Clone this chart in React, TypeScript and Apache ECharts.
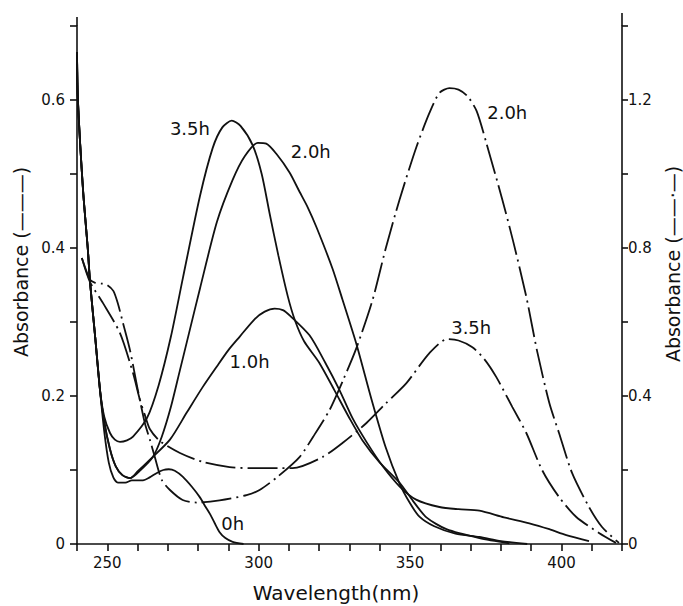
import React, { useEffect, useRef } from "react";
import * as echarts from "echarts";

// ---- axis tick labels ----
const xLabeledTicks = [250, 300, 350, 400];
const leftLabeledTicks = [0, 0.2, 0.4, 0.6];
const rightLabeledTicks = [0, 0.4, 0.8, 1.2];

// ---- solid curves (left axis, absorbance) ----
const solidStart = [
  [240, 0.665], [240.3, 0.6], [242, 0.478], [243.6, 0.397], [244.3, 0.354], [246, 0.28], [247.6, 0.208],
];

const solid0h = [
  ...solidStart,
  [249, 0.152], [250.5, 0.11], [252, 0.09], [253.5, 0.083], [256, 0.083], [258.1, 0.086],
  [261.8, 0.086], [264, 0.09], [266.4, 0.096], [268.5, 0.1], [270.3, 0.101], [272.3, 0.099],
  [274.9, 0.091], [278, 0.077], [280.6, 0.063], [282.5, 0.05], [284, 0.04], [285.5, 0.028],
  [287.1, 0.016], [289, 0.008], [291.4, 0.003], [295, 0],
];

const solid1h = [
  ...solidStart,
  [249, 0.165], [250.9, 0.128], [252.8, 0.105], [255, 0.093], [257.5, 0.089], [260, 0.098],
  [264.1, 0.114], [270.7, 0.141], [276.3, 0.178], [281.5, 0.212], [286.2, 0.24], [290, 0.262],
  [293.7, 0.28], [298.7, 0.304], [302, 0.314], [305.3, 0.318], [308, 0.316], [310.5, 0.308],
  [316.8, 0.282], [322, 0.245], [326.7, 0.208], [331, 0.17], [335.6, 0.138], [341, 0.105],
  [346.5, 0.078], [352, 0.06], [359.7, 0.05], [366, 0.047], [372.9, 0.045], [381, 0.036],
  [389.4, 0.028], [396, 0.02], [401.6, 0.012], [409.1, 0.004],
];

const solid2h = [
  ...solidStart,
  [249, 0.165], [250.9, 0.128], [252.8, 0.105], [255, 0.093], [257.5, 0.089], [261, 0.1],
  [265.1, 0.118], [268, 0.145], [271, 0.185], [274, 0.235], [277, 0.285], [280.6, 0.345],
  [286.2, 0.435], [291.4, 0.492], [295.4, 0.524], [299.7, 0.542], [302.5, 0.541], [305.9, 0.527],
  [310.2, 0.502], [313.5, 0.476], [316.2, 0.455], [319.1, 0.428], [324.4, 0.372], [327.7, 0.33],
  [332.3, 0.27], [337.3, 0.195], [342, 0.13], [346.5, 0.082], [350, 0.055], [353.1, 0.037],
  [358, 0.024], [365, 0.014], [372.9, 0.0095], [380, 0.004], [388.7, 0],
];

const solid35h = [
  ...solidStart,
  [249, 0.172], [250.9, 0.15], [252.5, 0.141], [254.2, 0.138], [256.5, 0.14], [258.5, 0.145],
  [263.1, 0.17], [267, 0.215], [271, 0.28], [275, 0.36], [280.6, 0.47], [284.8, 0.535],
  [288, 0.563], [291.1, 0.572], [294, 0.565], [298, 0.539], [301, 0.5], [303.6, 0.447],
  [306.5, 0.39], [309.6, 0.335], [312, 0.302], [315, 0.274], [320, 0.245], [325, 0.208],
  [330, 0.17], [334.3, 0.14], [340, 0.11], [346.5, 0.083], [351, 0.058], [355.4, 0.036],
  [362, 0.02], [372.9, 0.008], [382.8, 0.001],
];

// ---- dash-dot curves (right axis, absorbance) ----
const dash2h = [
  [241.6, 0.773], [243, 0.74], [244.3, 0.714], [246, 0.706], [248, 0.704], [250, 0.7],
  [252, 0.684], [253.5, 0.65], [255.2, 0.597], [257.5, 0.524], [260.1, 0.416], [262.4, 0.327],
  [264.1, 0.281], [265.7, 0.235], [268, 0.173], [270.7, 0.146], [274.9, 0.119], [279.6, 0.112],
  [287.1, 0.118], [296, 0.132], [300.3, 0.146], [306, 0.18], [313.5, 0.235], [318, 0.29],
  [323.4, 0.362], [328, 0.445], [332.3, 0.53], [337.6, 0.659], [342, 0.8], [346.5, 0.93],
  [352.1, 1.073], [356.4, 1.165], [359.7, 1.219], [363, 1.232], [366, 1.228], [369, 1.21],
  [372, 1.17], [375.2, 1.084], [380.5, 0.93], [384, 0.82], [388.4, 0.668], [392, 0.52],
  [396, 0.381], [399.2, 0.3], [403.5, 0.192], [409.1, 0.1], [413.4, 0.046], [419, 0.003],
];

const dash35h = [
  [241.6, 0.773], [244.3, 0.708], [248.6, 0.651], [254.2, 0.57], [258.5, 0.462], [260.8, 0.389],
  [262.4, 0.349], [264.1, 0.31], [267.4, 0.278], [274, 0.246], [281.5, 0.222], [290.4, 0.208],
  [297, 0.205], [311.2, 0.205], [321.1, 0.235], [328, 0.275], [335.6, 0.327], [342, 0.38],
  [348.8, 0.435], [356.4, 0.516], [362.3, 0.554], [366, 0.55], [370.6, 0.532], [374.5, 0.5],
  [378.5, 0.451], [383.8, 0.37], [388.4, 0.3], [393.6, 0.2], [399.2, 0.127], [404.9, 0.073],
  [412.4, 0.03], [418, 0.003],
];

// ---- curve label texts and anchors (data coordinates) ----
const curveLabels = ["0h", "1.0h", "2.0h", "3.5h", "2.0h", "3.5h"];
const labelAnchors = [
  [291.4, 0.028], [297.0, 0.246], [317.2, 0.531], [277.3, 0.561], [382.1, 1.165], [370.2, 0.586],
];

const FONT = "'DejaVu Sans', Verdana, sans-serif";
const INK = "#111";

const near = (list: number[], v: number) => list.some((t) => Math.abs(t - v) < 1e-6);

export default function App() {
  const ref = useRef<HTMLDivElement>(null);

  useEffect(() => {
    document.body.style.margin = "0";
    if (!ref.current) return;
    const chart = echarts.init(ref.current, undefined, { renderer: "svg" });

    const gridLeft = 77;
    const gridRight = 61;
    const gridTop = 26;
    const gridBottom = 62;
    const W = 683;
    const H = 606;

    const mkSeries = (name: string, data: number[][], yAxisIndex: number, dashed: boolean, li: number) => ({
      name,
      type: "line",
      data,
      yAxisIndex,
      smooth: 0.25,
      showSymbol: false,
      symbol: "none",
      silent: true,
      lineStyle: {
        color: INK,
        width: 1.8,
        type: dashed ? [30, 5, 2, 5] : "solid",
      },
      markPoint: {
        symbol: "circle",
        symbolSize: 0,
        silent: true,
        label: {
          show: true,
          position: "inside",
          formatter: curveLabels[li],
          fontSize: 18,
          fontFamily: FONT,
          color: INK,
        },
        data: [{ coord: labelAnchors[li] }],
      },
    });

    const axisLineStyle = { color: INK, width: 1.6 };

    chart.setOption({
      animation: false,
      grid: { left: gridLeft, right: gridRight, top: gridTop, bottom: gridBottom, containLabel: false },
      xAxis: {
        type: "value",
        min: 240,
        max: 420,
        interval: 10,
        axisLine: { show: true, lineStyle: axisLineStyle },
        axisTick: { show: true, length: 7, lineStyle: axisLineStyle },
        axisLabel: {
          margin: 11,
          fontSize: 15,
          fontFamily: FONT,
          color: INK,
          formatter: (v: number) => (near(xLabeledTicks, v) ? String(v) : ""),
        },
        splitLine: { show: false },
      },
      yAxis: [
        {
          type: "value",
          position: "left",
          min: 0,
          max: 0.7,
          interval: 0.1,
          axisLine: { show: true, lineStyle: axisLineStyle },
          axisTick: { show: true, length: 7, lineStyle: axisLineStyle },
          axisLabel: {
            margin: 12,
            fontSize: 15,
            fontFamily: FONT,
            color: INK,
            formatter: (v: number) => (near(leftLabeledTicks, v) ? (v === 0 ? "0" : v.toFixed(1)) : ""),
          },
          splitLine: { show: false },
        },
        {
          type: "value",
          position: "right",
          min: 0,
          max: 1.4,
          interval: 0.2,
          axisLine: { show: true, lineStyle: axisLineStyle },
          axisTick: { show: true, length: 6, lineStyle: axisLineStyle },
          axisLabel: {
            margin: 6,
            fontSize: 15,
            fontFamily: FONT,
            color: INK,
            formatter: (v: number) => (near(rightLabeledTicks, v) ? (v === 0 ? "0" : v.toFixed(1)) : ""),
          },
          splitLine: { show: false },
        },
      ],
      series: [
        mkSeries("0h", solid0h, 0, false, 0),
        mkSeries("1.0h", solid1h, 0, false, 1),
        mkSeries("2.0h", solid2h, 0, false, 2),
        mkSeries("3.5h", solid35h, 0, false, 3),
        mkSeries("2.0h (dash-dot)", dash2h, 1, true, 4),
        mkSeries("3.5h (dash-dot)", dash35h, 1, true, 5),
      ],
      graphic: [
        {
          type: "line",
          silent: true,
          shape: { x1: gridLeft, y1: gridTop - 9, x2: gridLeft, y2: gridTop },
          style: { stroke: INK, lineWidth: 1.6 },
        },
        {
          type: "line",
          silent: true,
          shape: { x1: W - gridRight, y1: gridTop - 13, x2: W - gridRight, y2: gridTop },
          style: { stroke: INK, lineWidth: 1.6 },
        },
        {
          type: "text",
          x: 21,
          y: 262,
          rotation: Math.PI / 2,
          silent: true,
          style: {
            text: "Absorbance (———)",
            fontSize: 19,
            fontFamily: FONT,
            fill: INK,
            align: "center",
            verticalAlign: "middle",
          },
        },
        {
          type: "text",
          x: 673,
          y: 264,
          rotation: Math.PI / 2,
          silent: true,
          style: {
            text: "Absorbance (——·—)",
            fontSize: 19,
            fontFamily: FONT,
            fill: INK,
            align: "center",
            verticalAlign: "middle",
          },
        },
        {
          type: "text",
          x: 336,
          y: H - 13,
          silent: true,
          style: {
            text: "Wavelength(nm)",
            fontSize: 20,
            fontFamily: FONT,
            fill: INK,
            align: "center",
            verticalAlign: "middle",
          },
        },
      ],
    });

    return () => {
      chart.dispose();
    };
  }, []);

  return <div ref={ref} style={{ width: 683, height: 606, background: "#fff" }} />;
}
